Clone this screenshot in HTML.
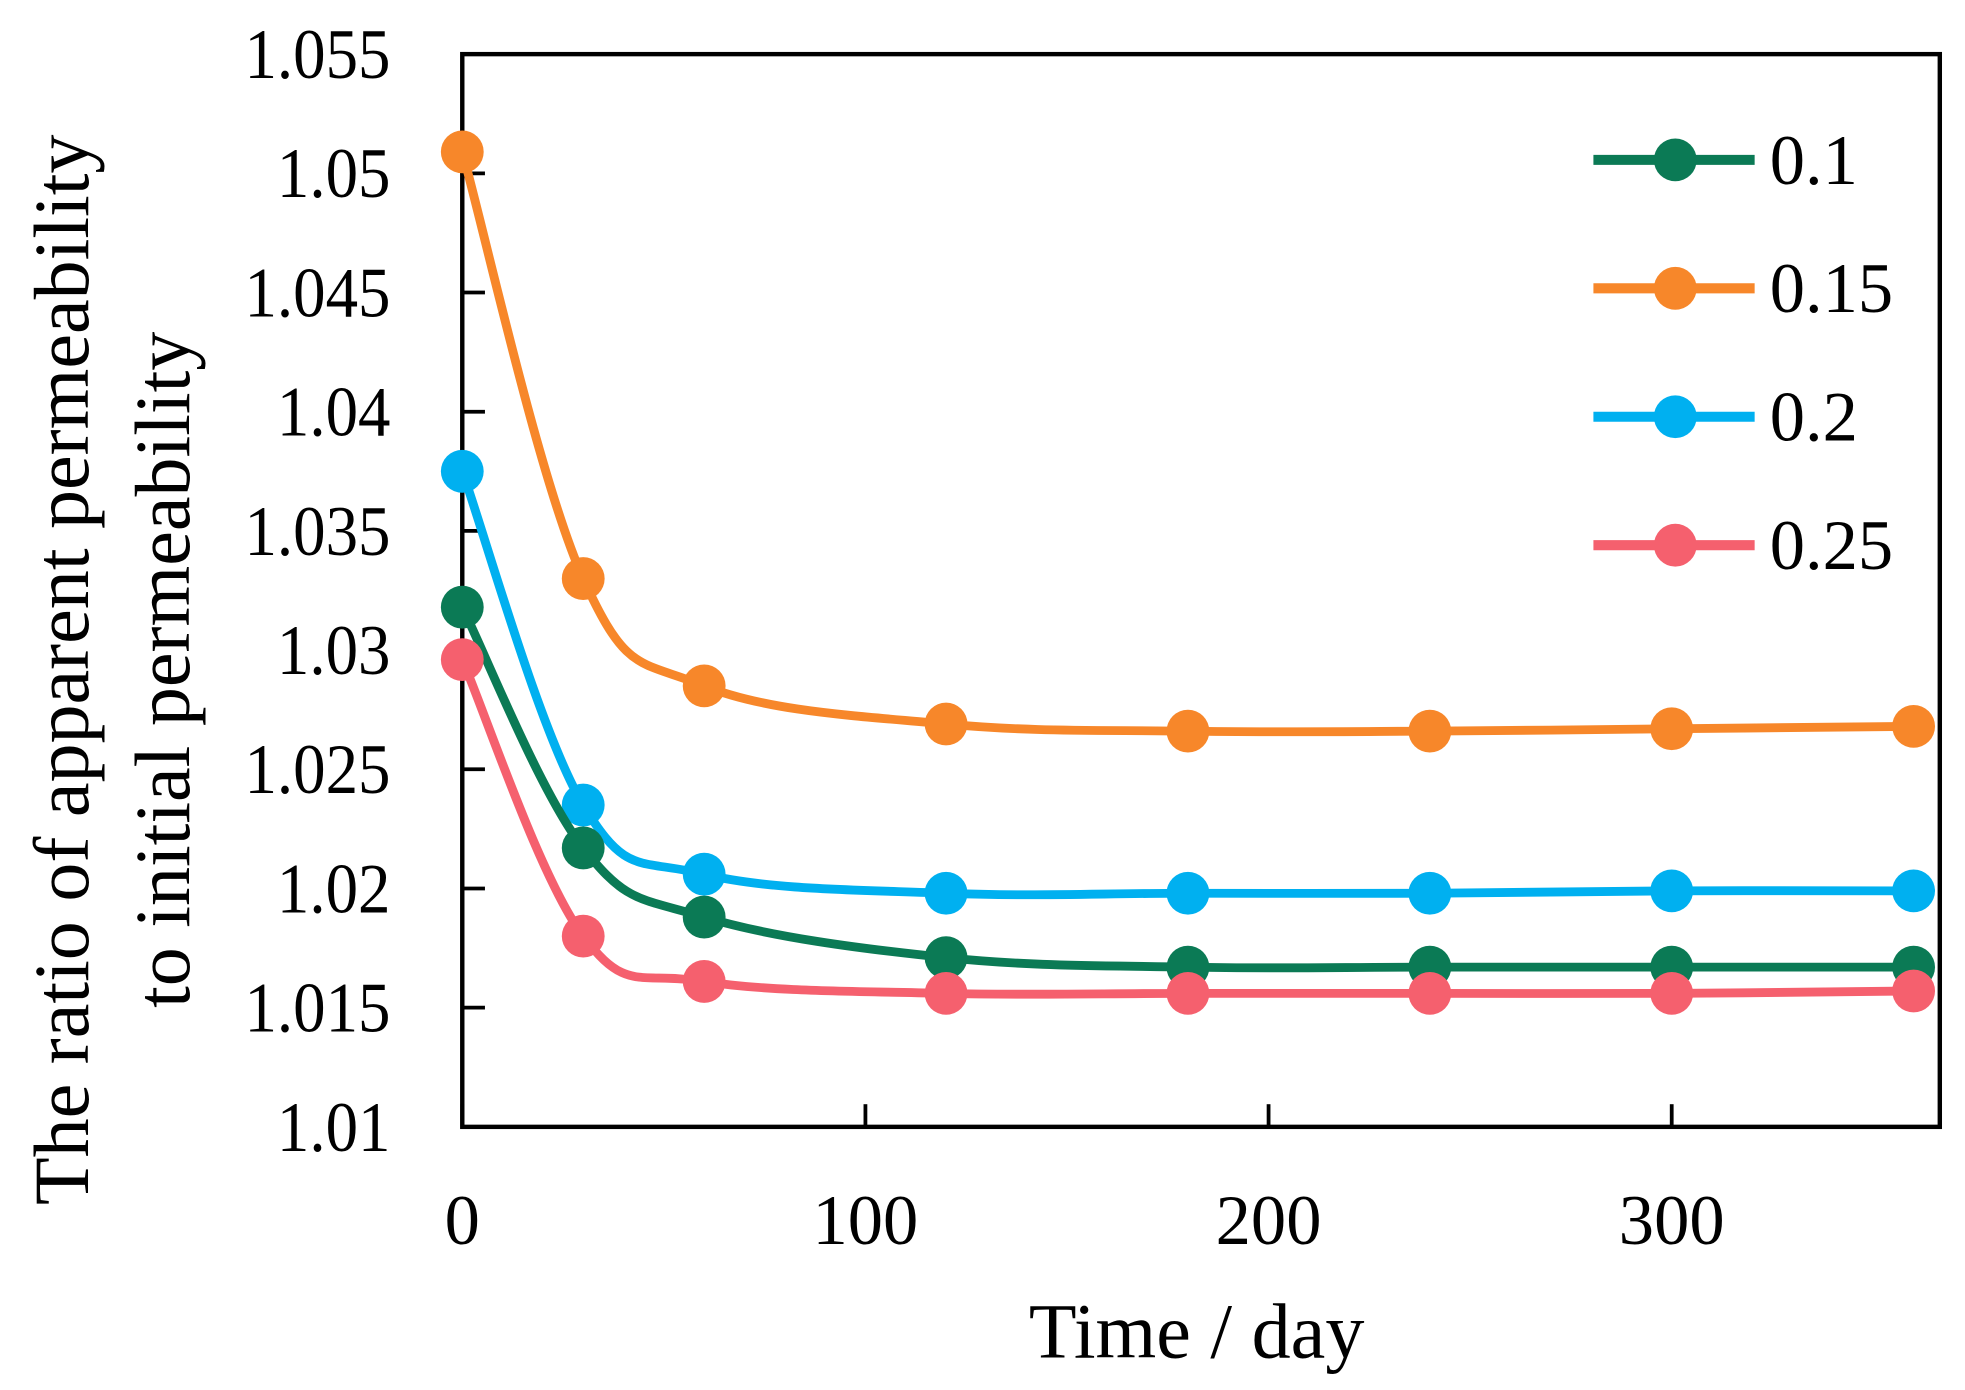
<!DOCTYPE html>
<html><head><meta charset="utf-8"><style>html,body{margin:0;padding:0;background:#fff}svg{display:block}</style></head>
<body>
<svg id="chart" width="1965" height="1390" viewBox="0 0 1560 1104" preserveAspectRatio="none" xmlns="http://www.w3.org/2000/svg" font-family="'Liberation Serif', serif"></svg>
<script>
const days = [0, 30, 60, 120, 180, 240, 300, 360];
const seriesNames = ['0.1', '0.15', '0.2', '0.25'];
const series01 = [1.0318, 1.0217, 1.0188, 1.0171, 1.0167, 1.0167, 1.0167, 1.0167];
const series015 = [1.0509, 1.0330, 1.0285, 1.0269, 1.0266, 1.0266, 1.0267, 1.0268];
const series02 = [1.0375, 1.0235, 1.0206, 1.0198, 1.0198, 1.0198, 1.0199, 1.0199];
const series025 = [1.0296, 1.0180, 1.0161, 1.0156, 1.0156, 1.0156, 1.0156, 1.0157];
const yTicks = ['1.01','1.015','1.02','1.025','1.03','1.035','1.04','1.045','1.05','1.055'];
const xTicks = [0, 100, 200, 300];

const NS = 'http://www.w3.org/2000/svg';
const svg = document.getElementById('chart');
const L = 367, R = 1540, T = 43, B = 895;
const X0 = 0, X1 = 366.5, Y0 = 1.01, Y1 = 1.055;
const sx = v => L + (v - X0) / (X1 - X0) * (R - L);
const sy = v => B - (v - Y0) / (Y1 - Y0) * (B - T);
function mk(tag, attrs, parent) {
  const e = document.createElementNS(NS, tag);
  for (const k in attrs) e.setAttribute(k, attrs[k]);
  (parent || svg).appendChild(e);
  return e;
}
const frame = mk('rect', {x: L, y: T, width: R - L, height: B - T, fill: 'none', stroke: '#000', 'stroke-width': 3.5});



yTicks.forEach(t => {
  const y = sy(parseFloat(t));
  const tk = mk('line', {x1: L, x2: L + 18, y1: y, y2: y, stroke: '#000', 'stroke-width': 3});
  
  
  const lb = mk('text', {x: 310, y: y + 19, 'text-anchor': 'end', 'font-size': 56, transform: `translate(310,0) scale(0.92,1) translate(-310,0)`});
  lb.textContent = t;
  
  
});
xTicks.forEach(t => {
  const x = sx(t);
  const tk = mk('line', {x1: x, x2: x, y1: B, y2: B - 18, stroke: '#000', 'stroke-width': 3});
  
  
  const lb = mk('text', {x: x, y: 988, 'text-anchor': 'middle', 'font-size': 56});
  lb.textContent = t;
  
  
});
const xt = mk('text', {x: 950, y: 1078, 'text-anchor': 'middle', 'font-size': 62});
xt.textContent = 'Time / day';


const yt = mk('text', {transform: 'translate(70,532) rotate(-90)', 'text-anchor': 'middle', 'font-size': 62});


const t1 = mk('tspan', {x: 0, y: 0}, yt); t1.textContent = 'The ratio of apparent permeability';
const t2 = mk('tspan', {x: 0, y: 80}, yt); t2.textContent = 'to initial permeability';

function smoothPath(pts) {
  let d = `M${pts[0][0]},${pts[0][1]}`;
  for (let i = 0; i < pts.length - 1; i++) {
    const p0 = pts[i - 1] || pts[i], p1 = pts[i], p2 = pts[i + 1], p3 = pts[i + 2] || p2;
    const k = 0.18;
    const c1 = [p1[0] + (p2[0] - p0[0]) * k, p1[1] + (p2[1] - p0[1]) * k];
    const c2 = [p2[0] - (p3[0] - p1[0]) * k, p2[1] - (p3[1] - p1[1]) * k];
    d += ` C${c1[0]},${c1[1]} ${c2[0]},${c2[1]} ${p2[0]},${p2[1]}`;
  }
  return d;
}
const allSeries = [series01, series015, series02, series025];
const colors = ['#0b7a55', '#f7872a', '#00b0f0', '#f5606e'];
const order = [1, 2, 0, 3];
order.forEach(si => {
  const vals = allSeries[si];
  const pts = days.map((d, i) => [sx(d), sy(vals[i])]);
  const line = mk('path', {d: smoothPath(pts), fill: 'none', stroke: colors[si], 'stroke-width': 7});
  
  
  pts.forEach(p => {
    const c = mk('circle', {cx: p[0], cy: p[1], r: 17, fill: colors[si]});
    
    
  });
});
seriesNames.forEach((n, i) => {
  const y = 127 + i * 102;
  const g = mk('g', {});
  
  
  mk('line', {x1: 1265, x2: 1393, y1: y, y2: y, stroke: colors[i], 'stroke-width': 8}, g);
  mk('circle', {cx: 1330, cy: y, r: 17, fill: colors[i]}, g);
  const t = mk('text', {x: 1405, y: y + 19, 'font-size': 56}, g);
  t.textContent = n;
});
</script>
</body></html>
